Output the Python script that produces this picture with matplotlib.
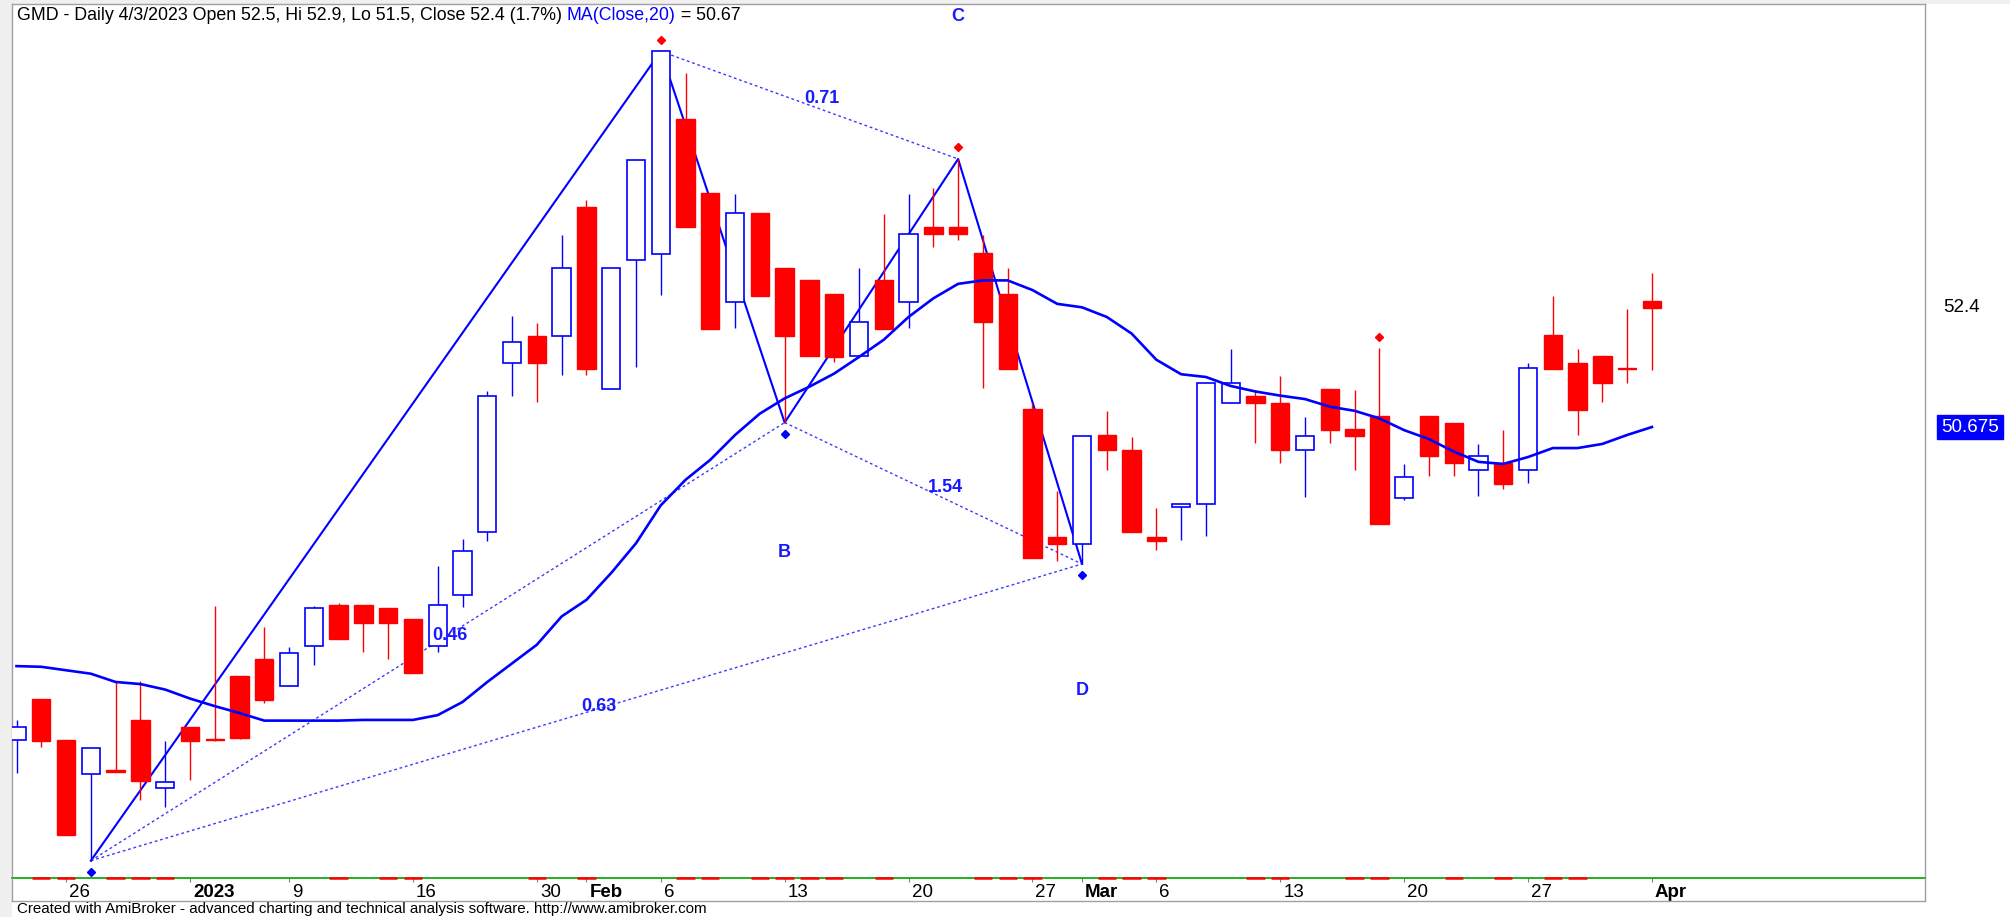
import numpy as np
import matplotlib.pyplot as plt
import matplotlib.transforms as mtransforms
from matplotlib.patches import Rectangle
from matplotlib.lines import Line2D

plt.rcParams['font.family'] = ['Liberation Sans', 'DejaVu Sans']

# GMD daily bars, late Dec 2022 .. 3 Apr 2023
opens = [46.14, 46.73, 46.14, 45.65, 45.70, 46.43, 45.44, 46.33, 46.15, 47.06,
         47.31, 46.92, 47.50, 48.10, 48.10, 48.05, 47.89, 47.50, 48.24, 49.15,
         51.61, 52.00, 52.00, 53.86, 51.22, 53.09, 53.18, 55.14, 54.07, 52.49,
         53.77, 52.98, 52.80, 52.60, 51.70, 52.80, 52.49, 53.58, 53.58, 53.19,
         52.60, 50.93, 49.08, 48.98, 50.56, 50.34, 49.08, 49.51, 49.56, 51.03,
         51.13, 51.03, 50.34, 51.23, 50.64, 50.83, 49.65, 50.83, 50.74, 50.05,
         50.16, 50.05, 52.01, 51.61, 51.71, 51.53, 52.50]
highs = [46.43, 46.73, 46.14, 46.03, 46.99, 46.99, 46.12, 46.33, 48.08, 47.06,
         47.78, 47.48, 48.08, 48.13, 48.10, 48.05, 47.89, 48.66, 49.05, 51.20,
         52.29, 52.18, 53.46, 53.96, 52.98, 54.55, 56.12, 55.81, 54.07, 54.05,
         53.77, 52.98, 52.80, 52.60, 52.98, 53.76, 54.05, 54.14, 54.56, 53.46,
         52.98, 51.02, 49.75, 50.55, 50.91, 50.53, 49.50, 49.56, 51.32, 51.81,
         51.20, 51.41, 50.82, 51.23, 51.21, 51.82, 50.14, 50.83, 50.74, 50.43,
         50.63, 51.60, 52.58, 51.81, 51.71, 52.39, 52.90]
lows = [45.66, 46.04, 44.76, 44.39, 45.68, 45.27, 45.17, 45.56, 46.13, 46.15,
        46.68, 46.92, 47.23, 47.61, 47.42, 47.32, 47.11, 47.42, 48.06, 49.03,
        51.13, 51.04, 51.43, 51.43, 51.22, 51.54, 52.59, 53.57, 52.09, 52.11,
        52.58, 50.74, 51.70, 51.62, 51.70, 52.10, 52.11, 53.29, 53.39, 51.24,
        51.52, 48.77, 48.74, 48.69, 50.05, 49.16, 48.89, 49.04, 49.09, 51.03,
        50.45, 50.16, 49.66, 50.45, 50.05, 49.27, 49.62, 49.96, 49.96, 49.67,
        49.77, 49.87, 51.52, 50.56, 51.04, 51.32, 51.50]
closes = [46.33, 46.13, 44.76, 46.03, 45.68, 45.54, 45.53, 46.13, 46.14, 46.17,
          46.72, 47.40, 48.05, 47.61, 47.84, 47.83, 47.11, 48.09, 48.88, 51.12,
          51.90, 51.61, 52.98, 51.51, 52.98, 54.55, 56.12, 53.57, 52.09, 53.77,
          52.58, 52.00, 51.70, 51.69, 52.20, 52.10, 53.47, 53.47, 53.47, 52.20,
          51.52, 48.77, 48.98, 50.55, 50.34, 49.16, 49.02, 49.56, 51.32, 51.32,
          51.03, 50.34, 50.55, 50.63, 50.55, 49.27, 49.95, 50.25, 50.15, 50.25,
          49.85, 51.53, 51.52, 50.92, 51.31, 51.52, 52.40]
ma20 = [47.21, 47.20, 47.15, 47.10, 46.98, 46.95, 46.87, 46.74, 46.63, 46.53,
        46.42, 46.42, 46.42, 46.42, 46.43, 46.43, 46.43, 46.50, 46.69, 46.98,
        47.25, 47.52, 47.93, 48.17, 48.56, 48.99, 49.54, 49.91, 50.20, 50.56,
        50.87, 51.09, 51.26, 51.45, 51.69, 51.94, 52.27, 52.54, 52.75, 52.80,
        52.80, 52.66, 52.46, 52.41, 52.27, 52.03, 51.65, 51.44, 51.40, 51.27,
        51.19, 51.13, 51.08, 50.97, 50.91, 50.80, 50.63, 50.50, 50.32, 50.17,
        50.14, 50.24, 50.37, 50.37, 50.43, 50.56, 50.675]

tick_bars = [2, 7, 11, 16, 21, 23, 26, 31, 36, 41, 43, 46, 51, 56, 61, 66]
tick_labels = ['26', '2023', '9', '16', '30', 'Feb', '6', '13', '20', '27',
               'Mar', '6', '13', '20', '27', 'Apr']
bold_ticks = ['2023', 'Feb', 'Mar', 'Apr']

# harmonic pattern pivots
pivot_names = ['X', 'A', 'B', 'C', 'D']
pivot_bars = [3, 26, 31, 38, 43]
pivot_high = [False, True, False, True, False]
ratio_legs = [('X', 'B'), ('A', 'C'), ('B', 'D'), ('X', 'D')]
ratio_text = ['0.46', '0.71', '1.54', '0.63']
spike_bars = [55]

BLUE = '#0000ff'
RED = '#ff0000'

opens = np.array(opens); highs = np.array(highs)
lows = np.array(lows); closes = np.array(closes)
x = np.arange(len(closes))
up = closes >= opens

W, H = 2010, 917
fig = plt.figure(figsize=(W / 100, H / 100), dpi=100)
fig.patch.set_facecolor('white')

# grey window margins
fig.add_artist(Rectangle((0, 0), 11.7 / W, 1, transform=fig.transFigure,
                         facecolor='#f0f0f0', edgecolor='none', zorder=0))
fig.add_artist(Rectangle((0, 1 - 4.3 / H), 1, 4.3 / H, transform=fig.transFigure,
                         facecolor='#f0f0f0', edgecolor='none', zorder=0))

left, right, top, bottom = 11.7, 1925, 4.3, 878
ax = fig.add_axes([left / W, 1 - bottom / H, (right - left) / W, (bottom - top) / H])
ax.set_facecolor('white')
ax.set_xlim(-0.194, 77.02)
ax.set_ylim(52.4 - (bottom - 308) / 69, 52.4 + (308 - top) / 69)
ymin = ax.get_ylim()[0]

# pattern lines (behind the candles)
px = {n: b for n, b in zip(pivot_names, pivot_bars)}
py = {n: (highs[b] if h else lows[b]) for n, b, h in zip(pivot_names, pivot_bars, pivot_high)}
ax.plot(pivot_bars, [py[n] for n in pivot_names], color=BLUE, lw=1.5, zorder=2)
for (a, b), txt in zip(ratio_legs, ratio_text):
    ax.plot([px[a], px[b]], [py[a], py[b]], color='#3a3aff', lw=1.0,
            ls=(0, (2, 2)), zorder=2)
    mx = (px[a] + px[b]) / 2 + 0.5
    my = (py[a] + py[b]) / 2
    ax.annotate(txt, (mx, my), xytext=(0, 4.5), textcoords='offset points',
                ha='center', va='center', fontsize=13, fontweight='bold',
                color='#1a1aff', zorder=6)

# candles
wick_col = [BLUE if u else RED for u in up]
ax.vlines(x, lows, highs, colors=wick_col, lw=1.0, zorder=3)
ax.bar(x[up], closes[up] - opens[up], bottom=opens[up], width=0.74,
       facecolor='white', edgecolor=BLUE, lw=1.2, zorder=4)
ax.bar(x[~up], opens[~up] - closes[~up], bottom=closes[~up], width=0.74,
       facecolor=RED, edgecolor=RED, lw=1.0, zorder=4)

# moving average
ax.plot(x, ma20, color=BLUE, lw=1.9, zorder=5)

# pivot diamonds
dpi_t = fig.dpi_scale_trans
above = ax.transData + mtransforms.ScaledTranslation(0, 0.115, dpi_t)
below = ax.transData + mtransforms.ScaledTranslation(0, -0.115, dpi_t)
hi_b = [b for b, h in zip(pivot_bars, pivot_high) if h] + spike_bars
lo_b = [b for b, h in zip(pivot_bars, pivot_high) if not h]
ax.plot(hi_b, highs[hi_b], 'D', color=RED, ms=4.5, transform=above, zorder=6, clip_on=False)
ax.plot(lo_b, lows[lo_b], 'D', color=BLUE, ms=4.5, transform=below, zorder=6, clip_on=False)

# pivot letters
letter_off = {'B': -130, 'C': 142, 'D': -127}
for n, off in letter_off.items():
    ax.annotate(n, (px[n], py[n]), xytext=(0, off * 0.72), textcoords='offset points',
                ha='center', va='center', fontsize=13, fontweight='bold',
                color='#1a1aff', zorder=6, annotation_clip=False)

# up/down strip on the date axis
down = np.r_[False, closes[1:] < closes[:-1]]
ax.hlines([ymin] * int(down.sum()), x[down] - 0.37, x[down] + 0.37, colors=RED,
          lw=1.8, zorder=7, clip_on=False)

for s in ['left', 'top', 'right']:
    ax.spines[s].set_color('#a0a0a0')
    ax.spines[s].set_linewidth(1.0)
ax.spines['bottom'].set_color('#00a000')
ax.spines['bottom'].set_linewidth(1.2)
ax.set_yticks([])
ax.set_xticks(tick_bars)
ax.set_xticklabels(tick_labels)
ax.tick_params(axis='x', direction='out', length=3, width=0.8, color='#808080',
               pad=1.0, labelsize=13.5)
shift = mtransforms.ScaledTranslation(0.03, 0, dpi_t)
for lab in ax.get_xticklabels():
    lab.set_horizontalalignment('left')
    lab.set_transform(lab.get_transform() + shift)
    if lab.get_text() in bold_ticks:
        lab.set_fontweight('bold')

# frame below the date axis
grey = '#a0a0a0'
fig.add_artist(Line2D([left / W, right / W], [1 - 901 / H] * 2, color=grey, lw=1.0,
                      transform=fig.transFigure))
for xx in (left, right):
    fig.add_artist(Line2D([xx / W] * 2, [1 - 901 / H, 1 - bottom / H], color=grey,
                          lw=1.0, transform=fig.transFigure))

# price labels on the right
bt = mtransforms.blended_transform_factory(fig.transFigure, ax.transData)
fig.text(1943 / W, closes[-1], f'{closes[-1]:.1f}', transform=bt, va='center',
         ha='left', fontsize=13.5, color='black')
fig.text(1941 / W, ma20[-1], f'{ma20[-1]:.3f}', transform=bt, va='center',
         ha='left', fontsize=13.5, color='white',
         bbox=dict(boxstyle='square,pad=0.2', facecolor=BLUE, edgecolor=BLUE))

# title line
renderer = fig.canvas.get_renderer()
pct = (closes[-1] / closes[-2] - 1) * 100
parts = [(f'GMD - Daily 4/3/2023 Open {opens[-1]:.1f}, Hi {highs[-1]:.1f}, '
          f'Lo {lows[-1]:.1f}, Close {closes[-1]:.1f} ({pct:.1f}%) ', 'black'),
         ('MA(Close,20)', BLUE), (f' = {ma20[-1]:.2f}', 'black')]
tx = 17 / W
for s, c in parts:
    t = fig.text(tx, 1 - 16 / H, s, color=c, fontsize=12.75, va='center', ha='left')
    bb = t.get_window_extent(renderer)
    tx = bb.x1 / W

fig.text(17 / W, 1 - 909 / H,
         'Created with AmiBroker - advanced charting and technical analysis software. '
         'http://www.amibroker.com', fontsize=10.9, va='center', ha='left')

fig.savefig('out.png', dpi=100, facecolor=fig.get_facecolor())
